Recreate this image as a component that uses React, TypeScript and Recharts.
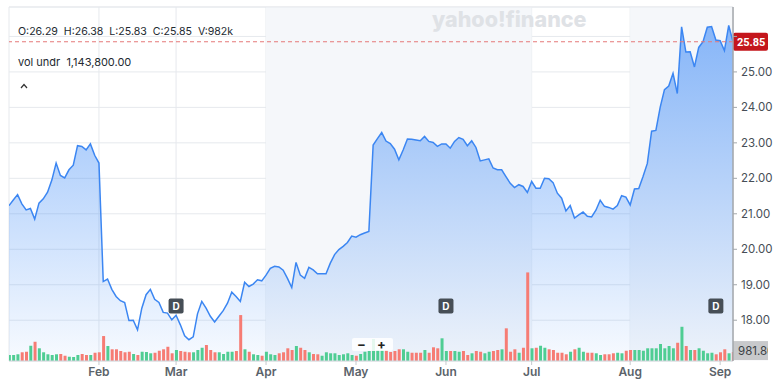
import React from 'react';
import {
  ComposedChart,
  Area,
  Bar,
  Cell,
  XAxis,
  YAxis,
  CartesianGrid,
  ReferenceArea,
  ReferenceLine,
} from 'recharts';

// trading days per month, Jan..Sep (first entry = January days before the Feb tick)
const monthDays = [21, 18, 21, 21, 21, 20, 23, 21, 4];
const monthLabels = ['Feb', 'Mar', 'Apr', 'May', 'Jun', 'Jul', 'Aug', 'Sep'];

const closes = [
  21.23, 21.39, 21.54, 21.28, 21.11, 21.15, 20.85, 21.3, 21.42, 21.61,
  21.95, 22.43, 22.08, 22.01, 22.24, 22.37, 22.92, 22.9, 22.8, 22.97,
  22.65, 22.43, 19.09, 19.16, 18.87, 18.67, 18.55, 18.5, 17.99, 18.0,
  17.73, 18.34, 18.72, 18.87, 18.59, 18.5, 18.22, 18.2, 18.01, 18.14,
  17.87, 17.56, 17.45, 17.53, 18.18, 18.53, 18.34, 18.11, 17.95, 18.11,
  18.27, 18.48, 18.79, 18.67, 18.53, 19.07, 18.95, 19.02, 19.14, 19.11,
  19.27, 19.46, 19.52, 19.5, 19.41, 19.18, 18.92, 19.63, 19.27, 19.18,
  19.49, 19.42, 19.31, 19.31, 19.31, 19.61, 19.85, 19.99, 20.08, 20.19,
  20.37, 20.34, 20.41, 20.46, 20.5, 22.94, 23.12, 23.29, 23.05, 22.98,
  22.82, 22.52, 22.8, 23.11, 23.1, 23.08, 23.06, 23.18, 23.04, 23.01,
  22.9, 22.97, 22.97, 22.85, 23.04, 23.15, 23.1, 22.92, 23.06, 22.87,
  22.49, 22.52, 22.55, 22.29, 22.24, 22.24, 22.05, 21.86, 21.74, 21.82,
  21.77, 21.6, 21.91, 21.72, 21.72, 22.0, 21.99, 21.88, 21.58, 21.44,
  21.08, 21.23, 20.88, 20.97, 21.05, 20.93, 20.91, 21.1, 21.38, 21.21,
  21.18, 21.13, 21.23, 21.51, 21.47, 21.25, 21.7, 21.71, 22.05, 22.42,
  23.33, 23.35, 24.0, 24.5, 24.6, 24.96, 24.39, 26.27, 25.56, 25.57,
  25.14, 25.69, 25.85, 26.26, 26.28, 25.9, 25.88, 25.6, 26.31, 25.85,
];

// volume in thousands
const volumes = [
  660, 660, 740, 960, 1020, 1680, 2120, 1400, 960, 740,
  660, 740, 770, 580, 470, 440, 660, 770, 660, 660,
  910, 960, 2750, 1650, 1290, 1290, 1100, 960, 1020, 770,
  660, 1020, 990, 850, 910, 1130, 1290, 1570, 850, 1210,
  1100, 1020, 960, 960, 1210, 1460, 1760, 1210, 960, 960,
  770, 1020, 1020, 1100, 5060, 1290, 1020, 740, 660, 580,
  1020, 740, 660, 850, 960, 1400, 1210, 1650, 1460, 1210,
  960, 770, 740, 580, 960, 850, 850, 660, 740, 850,
  660, 580, 770, 1020, 1100, 2420, 1210, 1210, 1210, 990,
  1100, 1290, 1290, 1020, 910, 910, 910, 1210, 910, 1510,
  1400, 2500, 1100, 1100, 1100, 1020, 1100, 660, 850, 1100,
  1020, 850, 1020, 1100, 1210, 1290, 3600, 1020, 1290, 910,
  1460, 9760, 1400, 1460, 1680, 1460, 1290, 1210, 910, 910,
  740, 1020, 1290, 1460, 1020, 910, 910, 850, 660, 740,
  740, 850, 910, 850, 1130, 1210, 1210, 1210, 1130, 1400,
  1400, 1400, 1870, 1400, 1650, 1400, 2010, 3770, 1650, 1210,
  1210, 1400, 1130, 850, 910, 740, 960, 1290, 850, 981.8,
];

const dividendIdx = [39, 102, 165];

const PRICE_MIN = 16.85;
const PRICE_MAX = 26.83;
const VOL_MAX = 39000;
const priceTicks = [18, 19, 20, 21, 22, 23, 24, 25, 26];

const N = closes.length;
const monthStarts = monthLabels.map((_, k) =>
  monthDays.slice(0, k + 1).reduce((a, b) => a + b, 0)
);
const shaded = [
  [monthStarts[2], monthStarts[5]],
  [monthStarts[6], N - 1],
];

const data = closes.map((c, i) => ({
  i,
  close: c,
  vol: volumes[i],
  up: i === 0 || c >= closes[i - 1],
}));

const lastClose = closes[N - 1];
const lastVol = volumes[N - 1];

const GRID = '#e6e9ed';

const PriceTag = (props: any) => {
  const vb = props.viewBox || {};
  const x = vb.x + vb.width;
  const y = vb.y;
  return (
    <g>
      <rect x={x} y={y - 9} width={35} height={18} rx={2} fill="#c4161c" />
      <text
        x={x + 4}
        y={y + 4}
        fill="#fff"
        fontSize={11}
        fontWeight={700}
        fontFamily="Roboto, sans-serif"
      >
        {lastClose.toFixed(2)}
      </text>
    </g>
  );
};

const VolTag = (props: any) => {
  const vb = props.viewBox || {};
  const x = vb.x + vb.width;
  const y = vb.y - 1.5;
  return (
    <g>
      <rect x={x} y={y - 9.5} width={35} height={19} fill="#c8c9cb" />
      <text
        x={x + 5}
        y={y + 4}
        fill="#3a3f44"
        fontSize={11.5}
        clipPath="url(#volClip)"
      >
        {lastVol.toFixed(2)}
      </text>
    </g>
  );
};

const DivTag = (props: any) => {
  const vb = props.viewBox || {};
  const cx = vb.x;
  const bottom = vb.y + vb.height;
  return (
    <g>
      <rect x={cx - 7.5} y={bottom - 62.5} width={15} height={15} rx={2} fill="#464e56" />
      <text
        x={cx}
        y={bottom - 51}
        textAnchor="middle"
        fill="#fff"
        fontSize={10}
        fontWeight={700}
      >
        D
      </text>
    </g>
  );
};

export default function App() {
  return (
    <div
      style={{
        position: 'absolute',
        left: 0,
        top: 0,
        width: 780,
        height: 381,
        fontFamily: 'Inter, "Noto Sans", sans-serif',
        background: '#fff',
      }}
    >
      <ComposedChart
        width={780}
        height={381}
        data={data}
        margin={{ top: 7, right: 0, bottom: 0, left: 9 }}
      >
        <defs>
          <linearGradient id="priceFill" x1="0" y1="0" x2="0" y2="1">
            <stop offset="0%" stopColor="#3d8af7" stopOpacity={0.6} />
            <stop offset="100%" stopColor="#3d8af7" stopOpacity={0.04} />
          </linearGradient>
          <clipPath id="volClip">
            <rect x={733} y={0} width={35} height={381} />
          </clipPath>
        </defs>
        {shaded.map(([a, b], k) => (
          <ReferenceArea
            key={k}
            yAxisId="p"
            x1={a}
            x2={b}
            fill="#f5f7fa"
            fillOpacity={1}
            stroke="none"
          />
        ))}
        <CartesianGrid yAxisId="p" stroke={GRID} />
        <XAxis
          type="number"
          dataKey="i"
          domain={[0, N - 1]}
          ticks={monthStarts}
          interval={0}
          allowDataOverflow
          tickFormatter={(v: number) => monthLabels[monthStarts.indexOf(v)] || ''}
          height={20}
          tickSize={4}
          tickMargin={2}
          axisLine={{ stroke: '#d3d7dc' }}
          tickLine={{ stroke: '#c5c9ce' }}
          tick={{ fill: '#5b636a', fontSize: 12, fontWeight: 600 }}
        />
        <YAxis
          yAxisId="p"
          orientation="right"
          domain={[PRICE_MIN, PRICE_MAX]}
          ticks={priceTicks}
          interval={0}
          allowDataOverflow
          width={47}
          tickSize={4}
          tickMargin={4}
          tickFormatter={(v: number) => (v === 26 ? '' : v.toFixed(2))}
          axisLine={{ stroke: '#a3a7ab', strokeWidth: 1.5 }}
          tickLine={{ stroke: '#a3a7ab' }}
          tick={{ fill: '#464e56', fontSize: 11.5 }}
        />
        <YAxis yAxisId="v" hide domain={[0, VOL_MAX]} />
        <ReferenceLine yAxisId="p" y={PRICE_MAX} stroke={GRID} />
        <Area
          yAxisId="p"
          type="linear"
          dataKey="close"
          stroke="#3b86f2"
          strokeWidth={1.5}
          fill="url(#priceFill)"
          fillOpacity={1}
          dot={false}
          activeDot={false}
          isAnimationActive={false}
        />
        <Bar yAxisId="v" dataKey="vol" barSize={3} isAnimationActive={false}>
          {data.map((d) => (
            <Cell key={d.i} fill={d.up ? '#4fcd93' : '#f67c74'} />
          ))}
        </Bar>
        <ReferenceLine
          yAxisId="p"
          y={lastClose}
          stroke="#e57878"
          strokeDasharray="4 3"
          label={<PriceTag />}
        />
        <ReferenceLine yAxisId="v" y={lastVol} stroke="none" label={<VolTag />} />
        {dividendIdx.map((d) => (
          <ReferenceLine
            key={d}
            yAxisId="p"
            x={d}
            stroke="none"
            label={<DivTag />}
          />
        ))}
      </ComposedChart>

      <div
        style={{
          position: 'absolute',
          left: 432,
          top: 6,
          fontSize: 21.5,
          fontWeight: 800,
          color: '#dfe2e6',
          pointerEvents: 'none',
        }}
      >
        yahoo!finance
      </div>
      <div
        style={{
          position: 'absolute',
          left: 18,
          top: 25,
          fontSize: 10.6,
          color: '#232a31',
          whiteSpace: 'pre',
          lineHeight: '14px',
        }}
      >
        {'O:26.29  H:26.38  L:25.83  C:25.85  V:982k'}
      </div>
      <div
        style={{
          position: 'absolute',
          left: 18,
          top: 55,
          fontSize: 11,
          color: '#232a31',
          whiteSpace: 'pre',
          lineHeight: '14px',
        }}
      >
        {'vol undr  1,143,800.00'}
      </div>
      <svg
        style={{ position: 'absolute', left: 20, top: 83 }}
        width={8}
        height={6}
      >
        <polyline points="1,5 4,1.5 7,5" fill="none" stroke="#333" strokeWidth={1.2} />
      </svg>
      <div
        style={{
          position: 'absolute',
          left: 352,
          top: 338,
          width: 41,
          height: 13,
          background: 'rgba(255,255,255,0.85)',
          borderRadius: 2,
          fontSize: 13,
          fontWeight: 700,
          color: '#222',
          lineHeight: '13px',
        }}
      >
        <span style={{ position: 'absolute', left: 5 }}>−</span>
        <span style={{ position: 'absolute', left: 25 }}>+</span>
      </div>
    </div>
  );
}
